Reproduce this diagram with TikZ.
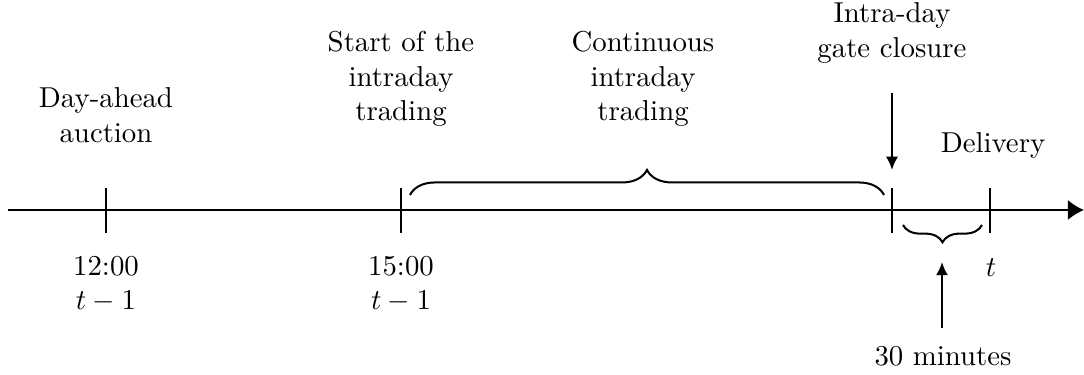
\documentclass[tikz,border=0pt]{standalone}
\usetikzlibrary{arrows.meta,decorations.pathreplacing}
\begin{document}
\begin{tikzpicture}[x=0.3472pt,y=0.3472pt,
  lbl/.style={align=center,inner sep=0pt},
  axisline/.style={line width=0.7pt},
  tick/.style={line width=0.7pt},
  bracel/.style={line width=0.7pt,decorate,decoration={brace,amplitude=#1}},
  pointer/.style={line width=0.7pt,-{Latex[length=4.6pt,width=4.2pt]}}]
\useasboundingbox (0,0) rectangle (1084,375);
% axis
\coordinate (a0) at (8,165);
\coordinate (a1) at (1084,165);
\draw[axisline,-{Latex[length=5.6pt,width=7pt]}] (a0) -- (a1);
% ticks
\foreach \n/\x in {t1/106,t2/401,t3/892,t4/990}{
  \coordinate (\n top) at (\x,187);
  \coordinate (\n bot) at (\x,142);
  \draw[tick] (\n top) -- (\n bot);
}
% braces
\coordinate (b1s) at (410,180);
\coordinate (b1e) at (884,180);
\draw[bracel=8.7pt] (b1s) -- (b1e);
\coordinate (b2s) at (982,150);
\coordinate (b2e) at (903,150);
\draw[bracel=6pt] (b2s) -- (b2e);
% labels
\node[lbl] (da) at (106,260) {Day-ahead\\auction};
\node[lbl] (st) at (401,296) {Start of the\\intraday\\trading};
\node[lbl] (ci) at (643,296) {Continuous\\intraday\\trading};
\node[lbl] (gc) at (892,342) {Intra-day\\gate closure};
\node[lbl] (dl) at (993,230) {Delivery};
\node[lbl] (d1) at (106,91) {12:00\\$t-1$};
\node[lbl] (d2) at (401,91) {15:00\\$t-1$};
\node[lbl] (tt) at (991,107) {$t$};
\node[lbl] (mn) at (943,19) {30 minutes};
% pointers
\coordinate (p1s) at (892,282);
\coordinate (p1e) at (892,205);
\draw[pointer] (p1s) -- (p1e);
\coordinate (p2s) at (942,47);
\coordinate (p2e) at (942,113);
\draw[pointer] (p2s) -- (p2e);
\end{tikzpicture}
\end{document}
